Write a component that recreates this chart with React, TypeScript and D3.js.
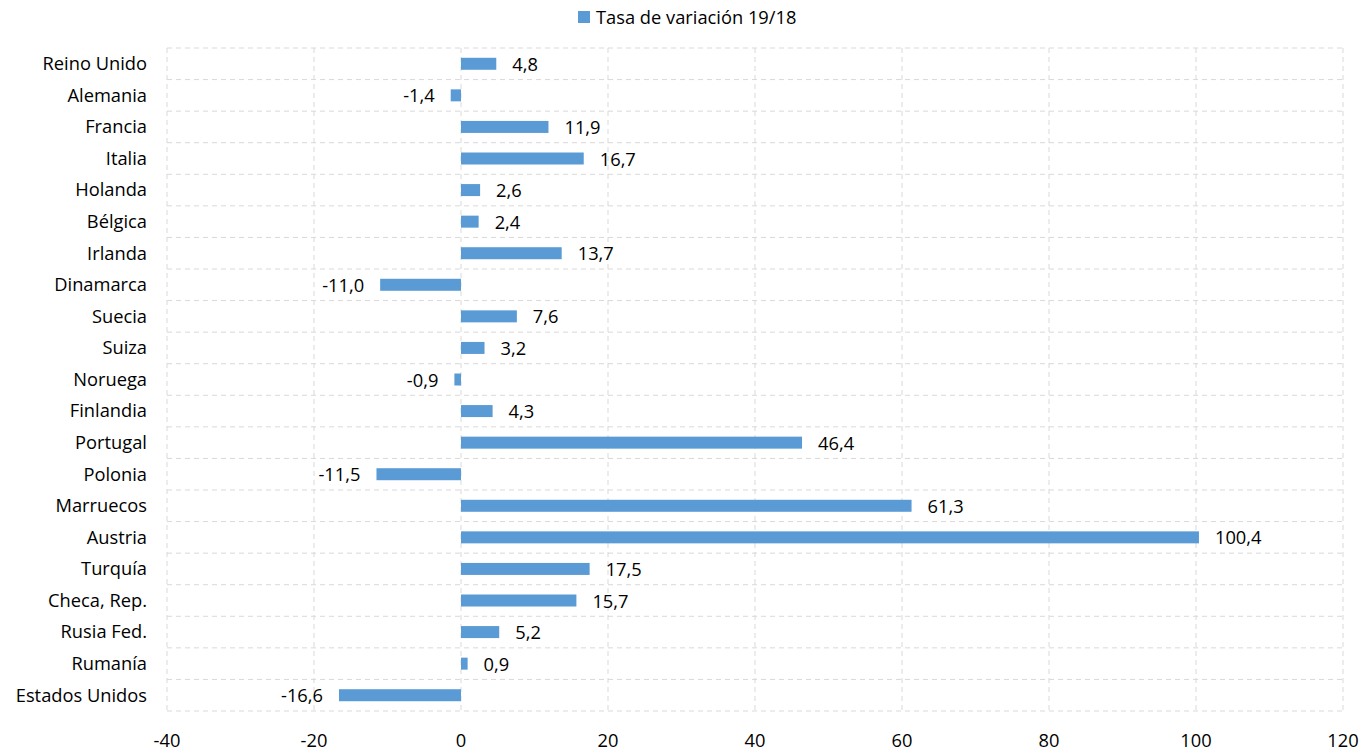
import { useMemo } from "react";
import * as d3 from "d3";

const WIDTH = 1360;
const HEIGHT = 751;
const MARGIN = { top: 48, right: 17, bottom: 40, left: 167 };
const FONT = "'Open Sans', sans-serif";
const FONT_SIZE = 18.3;
const BAR_COLOR = "#5b9bd5";

const COUNTRIES = [
  "Reino Unido",
  "Alemania",
  "Francia",
  "Italia",
  "Holanda",
  "Bélgica",
  "Irlanda",
  "Dinamarca",
  "Suecia",
  "Suiza",
  "Noruega",
  "Finlandia",
  "Portugal",
  "Polonia",
  "Marruecos",
  "Austria",
  "Turquía",
  "Checa, Rep.",
  "Rusia Fed.",
  "Rumanía",
  "Estados Unidos",
];
const VALUES = [
  4.8, -1.4, 11.9, 16.7, 2.6, 2.4, 13.7, -11.0, 7.6, 3.2, -0.9, 4.3, 46.4, -11.5, 61.3, 100.4, 17.5, 15.7, 5.2,
  0.9, -16.6,
];
const X_TICKS = [-40, -20, 0, 20, 40, 60, 80, 100, 120];
const SERIES_NAME = "Tasa de variación 19/18";

const fmt = (v: number) => v.toFixed(1).replace(".", ",");

export default function App() {
  const plotBottom = HEIGHT - MARGIN.bottom;
  const plotRight = WIDTH - MARGIN.right;

  const x = useMemo(
    () => d3.scaleLinear().domain([-40, 120]).range([MARGIN.left, plotRight]),
    [plotRight]
  );
  const y = useMemo(
    () => d3.scaleBand().domain(COUNTRIES).range([MARGIN.top, plotBottom]).paddingInner(0).paddingOuter(0),
    [plotBottom]
  );
  const barH = 12;
  const bounds = d3.range(COUNTRIES.length + 1).map((i) => MARGIN.top + i * y.step());

  return (
    <svg
      width={WIDTH}
      height={HEIGHT}
      style={{ display: "block", position: "absolute", left: 0, top: 0 }}
      fontFamily={FONT}
      fontSize={FONT_SIZE}
    >
      <rect width={WIDTH} height={HEIGHT} fill="#fff" />
      {/* grid */}
      {X_TICKS.map((t) => (
        <line
          key={`v${t}`}
          x1={x(t)}
          x2={x(t)}
          y1={MARGIN.top}
          y2={plotBottom}
          stroke="#d9d9d9"
          strokeDasharray="5,4"
        />
      ))}
      {bounds.map((b, i) => (
        <line
          key={`h${i}`}
          x1={MARGIN.left}
          x2={plotRight}
          y1={b}
          y2={b}
          stroke="#d9d9d9"
          strokeDasharray="5,4"
        />
      ))}
      {/* bars */}
      {COUNTRIES.map((c, i) => {
        const v = VALUES[i];
        const cy = (y(c) ?? 0) + y.bandwidth() / 2;
        const x0 = x(Math.min(0, v));
        const x1 = x(Math.max(0, v));
        return (
          <g key={c}>
            <rect x={x0} y={cy - barH / 2} width={x1 - x0} height={barH} fill={BAR_COLOR} />
            <text
              x={v >= 0 ? x1 + 16 : x0 - 16}
              y={cy + 7}
              textAnchor={v >= 0 ? "start" : "end"}
              fill="#000"
            >
              {fmt(v)}
            </text>
            <text x={MARGIN.left - 20} y={cy} dy="0.35em" textAnchor="end" fill="#000">
              {c}
            </text>
          </g>
        );
      })}
      {/* x tick labels */}
      {X_TICKS.map((t) => (
        <text key={`t${t}`} x={x(t)} y={747} textAnchor="middle" fill="#000">
          {t}
        </text>
      ))}
      {/* legend */}
      <rect x={578} y={11} width={12} height={12} fill={BAR_COLOR} />
      <text x={596} y={24} fill="#000">
        {SERIES_NAME}
      </text>
    </svg>
  );
}
